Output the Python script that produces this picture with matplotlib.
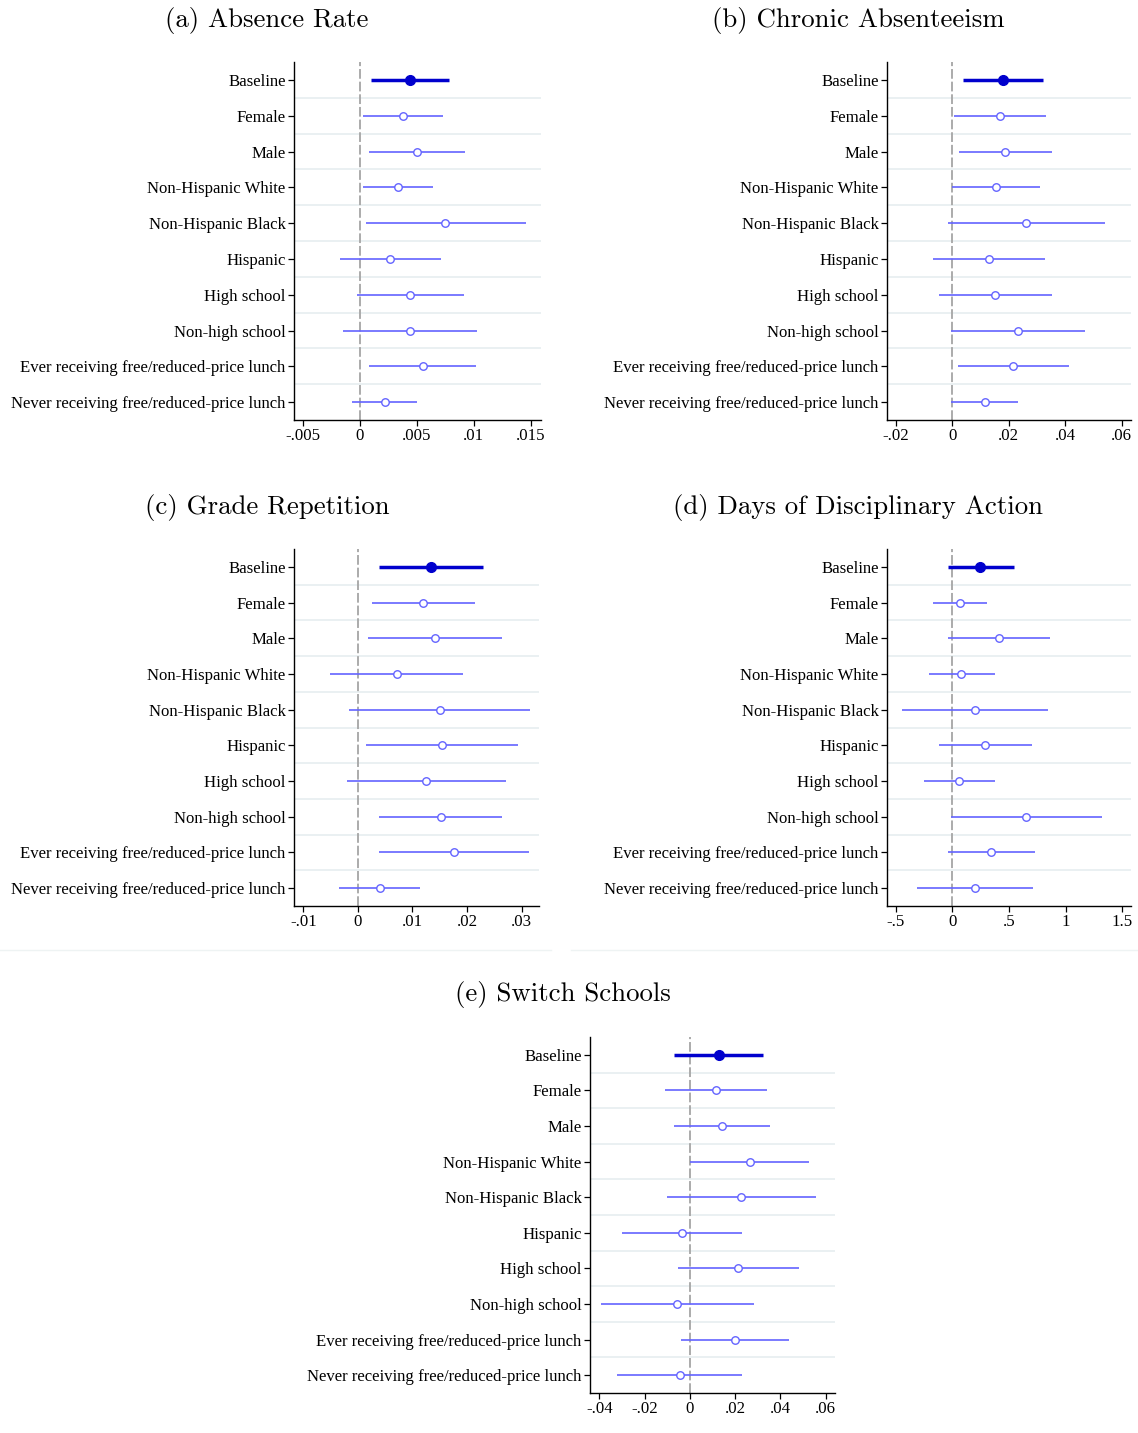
import matplotlib
matplotlib.use("Agg")
import matplotlib.pyplot as plt
from matplotlib.lines import Line2D
import numpy as np

groups = ["Baseline", "Female", "Male", "Non-Hispanic White", "Non-Hispanic Black",
          "Hispanic", "High school", "Non-high school",
          "Ever receiving free/reduced-price lunch",
          "Never receiving free/reduced-price lunch"]

# (a) absence rate
absence_est = [0.0044, 0.0038, 0.0050, 0.0033, 0.0075, 0.0026, 0.0044, 0.0044, 0.0055, 0.0022]
absence_lo = [0.0010, 0.0003, 0.0008, 0.0003, 0.0005, -0.0018, -0.0003, -0.0015, 0.0008, -0.0007]
absence_hi = [0.0078, 0.0073, 0.0092, 0.0064, 0.0146, 0.0071, 0.0091, 0.0103, 0.0102, 0.0050]

# (b) chronic absenteeism
chronic_est = [0.0179, 0.0168, 0.0188, 0.0154, 0.0261, 0.0129, 0.0152, 0.0233, 0.0216, 0.0115]
chronic_lo = [0.0037, 0.0005, 0.0024, 0.0000, -0.0017, -0.0069, -0.0048, -0.0005, 0.0021, -0.0005]
chronic_hi = [0.0320, 0.0332, 0.0354, 0.0309, 0.0540, 0.0327, 0.0354, 0.0469, 0.0414, 0.0234]

# (c) grade repetition
grade_est = [0.0134, 0.0120, 0.0142, 0.0071, 0.0150, 0.0155, 0.0125, 0.0153, 0.0176, 0.0041]
grade_lo = [0.0039, 0.0026, 0.0019, -0.0051, -0.0016, 0.0015, -0.0020, 0.0039, 0.0039, -0.0034]
grade_hi = [0.0230, 0.0215, 0.0265, 0.0193, 0.0315, 0.0294, 0.0271, 0.0264, 0.0313, 0.0114]

# (d) days of disciplinary action
disc_est = [0.247, 0.067, 0.411, 0.080, 0.196, 0.289, 0.061, 0.652, 0.340, 0.196]
disc_lo = [-0.042, -0.170, -0.035, -0.209, -0.446, -0.119, -0.254, -0.013, -0.042, -0.315]
disc_hi = [0.543, 0.308, 0.864, 0.376, 0.841, 0.703, 0.376, 1.319, 0.726, 0.709]

# (e) switch schools
switch_est = [0.0129, 0.0114, 0.0143, 0.0265, 0.0227, -0.0035, 0.0214, -0.0056, 0.0200, -0.0044]
switch_lo = [-0.0068, -0.0110, -0.0068, 0.0002, -0.0103, -0.0298, -0.0052, -0.0394, -0.0041, -0.0321]
switch_hi = [0.0324, 0.0341, 0.0354, 0.0524, 0.0556, 0.0232, 0.0484, 0.0283, 0.0440, 0.0232]

titles = ["(a) Absence Rate", "(b) Chronic Absenteeism", "(c) Grade Repetition",
          "(d) Days of Disciplinary Action", "(e) Switch Schools"]

xticks_a = [-0.005, 0, 0.005, 0.01, 0.015]
xlabels_a = ["-.005", "0", ".005", ".01", ".015"]
xticks_b = [-0.02, 0, 0.02, 0.04, 0.06]
xlabels_b = ["-.02", "0", ".02", ".04", ".06"]
xticks_c = [-0.01, 0, 0.01, 0.02, 0.03]
xlabels_c = ["-.01", "0", ".01", ".02", ".03"]
xticks_d = [-0.5, 0, 0.5, 1, 1.5]
xlabels_d = ["-.5", "0", ".5", "1", "1.5"]
xticks_e = [-0.04, -0.02, 0, 0.02, 0.04, 0.06]
xlabels_e = ["-.04", "-.02", "0", ".02", ".04", ".06"]

W, H = 1138, 1433
fig = plt.figure(figsize=(W / 100, H / 100), dpi=100)

SERIF = "Liberation Serif"
DARK = "#0000CD"
LIGHT = "#6464FF"


def px_axes(left, right, top, bottom):
    return fig.add_axes([left / W, 1 - bottom / H, (right - left) / W, (bottom - top) / H])


def panel(box, title_xy, title, est, lo, hi, xticks, xlabels, xlim):
    ax = px_axes(*box)
    rows = np.arange(len(groups))
    for r in rows[:-1]:
        ax.axhline(r + 0.5, color="#EAF0F2", lw=1.4, zorder=0)
    ax.axvline(0, color="#ABABAB", lw=1.4, dashes=(5, 1.5), zorder=1)
    ax.hlines(rows[1:], np.array(lo[1:]), np.array(hi[1:]), color=LIGHT, lw=1.2, zorder=2)
    ax.plot(est[1:], rows[1:], "o", ms=5.4, mfc="white", mec=LIGHT, mew=1.0, zorder=3)
    ax.hlines(rows[0], lo[0], hi[0], color=DARK, lw=2.5, zorder=2)
    ax.plot(est[0], rows[0], "o", ms=7.0, color=DARK, zorder=3)
    ax.set_ylim(len(groups) - 0.5, -0.5)
    ax.set_xlim(*xlim)
    ax.set_yticks(rows)
    ax.set_yticklabels(groups, fontfamily=SERIF, fontsize=12.1)
    ax.set_xticks(xticks)
    ax.set_xticklabels(xlabels, fontfamily=SERIF, fontsize=12.1)
    ax.tick_params(axis="both", direction="out", length=4, width=0.9, pad=2, colors="black")
    for s in ["top", "right"]:
        ax.spines[s].set_visible(False)
    for s in ["left", "bottom"]:
        ax.spines[s].set_linewidth(1.0)
    fig.text(title_xy[0] / W, 1 - title_xy[1] / H, title, fontfamily="cmr10",
             fontsize=19.3, ha="center", va="center")
    return ax


panel((294, 541, 62, 420), (267, 20), titles[0], absence_est, absence_lo, absence_hi,
      xticks_a, xlabels_a, (-0.0058, 0.0159))
panel((887, 1131, 62, 420), (858, 20), titles[1], chronic_est, chronic_lo, chronic_hi,
      xticks_b, xlabels_b, (-0.0232, 0.0633))
panel((294, 539, 549, 906), (267, 507), titles[2], grade_est, grade_lo, grade_hi,
      xticks_c, xlabels_c, (-0.0117, 0.0332))
panel((887, 1131, 549, 906), (858, 507), titles[3], disc_est, disc_lo, disc_hi,
      xticks_d, xlabels_d, (-0.578, 1.579))
panel((590, 835, 1037, 1393), (563, 994), titles[4], switch_est, switch_lo, switch_hi,
      xticks_e, xlabels_e, (-0.0441, 0.0641))

# faint panel borders under the middle row
fig.add_artist(Line2D([0, 551 / W], [1 - 950 / H] * 2, color="#EEF3F3", lw=1))
fig.add_artist(Line2D([571 / W, 1], [1 - 950 / H] * 2, color="#EEF3F3", lw=1))

fig.savefig("out.png", dpi=100, facecolor="white")
